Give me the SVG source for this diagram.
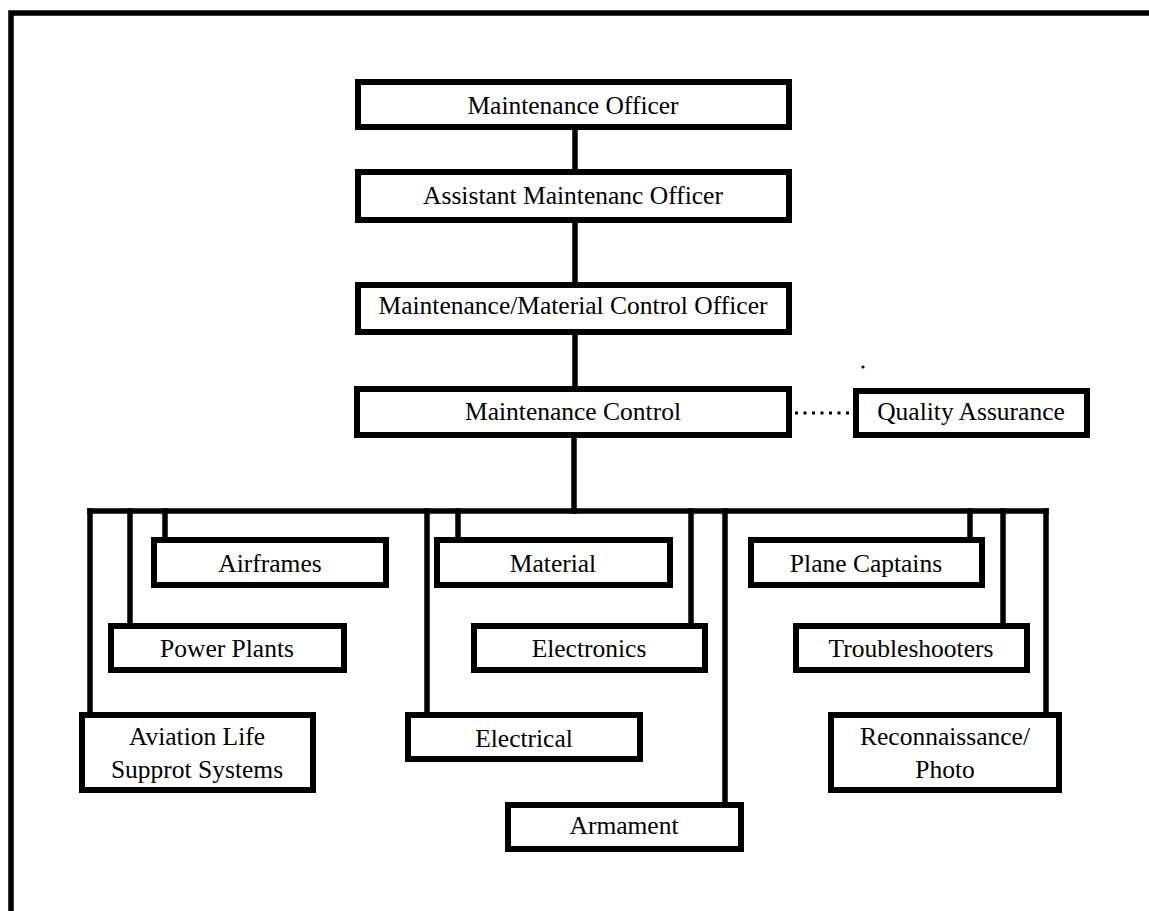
<svg xmlns="http://www.w3.org/2000/svg" width="1149" height="911" viewBox="0 0 1149 911">
  <style>
    .box { fill: #fff; stroke: #000; stroke-width: 6; }
    .line { fill: none; stroke: #000; stroke-width: 5.5; stroke-linecap: square; }
    .dotted { fill: none; stroke: #000; stroke-width: 3; stroke-dasharray: 3 5.5; }
    .frame { fill: none; stroke: #000; stroke-width: 5.5; }
    text { font-family: "Liberation Serif", "Times New Roman", serif; font-size: 25.5px; fill: #000; text-anchor: middle; }
  </style>

  <!-- page frame -->
  <path class="frame" d="M11 911 V13 H1149"/>

  <!-- connectors -->
  <g id="connectors">
    <path class="line" d="M575 130 V169"/>
    <path class="line" d="M575 223 V282"/>
    <path class="line" d="M575 335 V386"/>
    <path class="line" d="M574 438 V511"/>
    <path class="dotted" d="M795 413 H851"/>
    <!-- bus -->
    <path class="line" d="M90 511 H1046"/>
    <path class="line" d="M90 511 V712"/>
    <path class="line" d="M130 511 V623"/>
    <path class="line" d="M165 511 V537"/>
    <path class="line" d="M427 511 V712"/>
    <path class="line" d="M458 511 V537"/>
    <path class="line" d="M691 511 V623"/>
    <path class="line" d="M725 511 V802"/>
    <path class="line" d="M970 511 V537"/>
    <path class="line" d="M1003 511 V623"/>
    <path class="line" d="M1046 511 V712"/>
  </g>

  <g id="maintenance-officer">
    <rect class="box" x="358" y="82" width="431" height="45"/>
    <text x="573" y="114">Maintenance Officer</text>
  </g>
  <g id="assistant-maintenance-officer">
    <rect class="box" x="358" y="172" width="431" height="48"/>
    <text x="573" y="204">Assistant Maintenanc Officer</text>
  </g>
  <g id="material-control-officer">
    <rect class="box" x="358" y="285" width="431" height="47"/>
    <text x="573" y="314">Maintenance/Material Control Officer</text>
  </g>
  <g id="maintenance-control">
    <rect class="box" x="357" y="389" width="432" height="46"/>
    <text x="573" y="420">Maintenance Control</text>
  </g>
  <g id="quality-assurance">
    <rect class="box" x="856" y="391" width="231" height="44"/>
    <text x="971" y="420">Quality Assurance</text>
  </g>
  <circle cx="863" cy="367" r="1.6" fill="#000"/>

  <g id="airframes">
    <rect class="box" x="154" y="540" width="232" height="45"/>
    <text x="270" y="572">Airframes</text>
  </g>
  <g id="material">
    <rect class="box" x="437" y="540" width="233" height="45"/>
    <text x="553" y="572">Material</text>
  </g>
  <g id="plane-captains">
    <rect class="box" x="751" y="540" width="231" height="45"/>
    <text x="866" y="572">Plane Captains</text>
  </g>
  <g id="power-plants">
    <rect class="box" x="111" y="626" width="233" height="44"/>
    <text x="227" y="657">Power Plants</text>
  </g>
  <g id="electronics">
    <rect class="box" x="474" y="626" width="231" height="44"/>
    <text x="589" y="657">Electronics</text>
  </g>
  <g id="troubleshooters">
    <rect class="box" x="796" y="626" width="231" height="44"/>
    <text x="911" y="657">Troubleshooters</text>
  </g>
  <g id="aviation-life-support">
    <rect class="box" x="82" y="715" width="231" height="75"/>
    <text x="197" y="745">Aviation Life</text>
    <text x="197" y="778">Supprot Systems</text>
  </g>
  <g id="electrical">
    <rect class="box" x="408" y="715" width="232" height="44"/>
    <text x="524" y="747">Electrical</text>
  </g>
  <g id="reconnaissance">
    <rect class="box" x="831" y="715" width="228" height="75"/>
    <text x="945" y="745">Reconnaissance/</text>
    <text x="945" y="778">Photo</text>
  </g>
  <g id="armament">
    <rect class="box" x="508" y="805" width="233" height="44"/>
    <text x="624" y="834">Armament</text>
  </g>
</svg>
